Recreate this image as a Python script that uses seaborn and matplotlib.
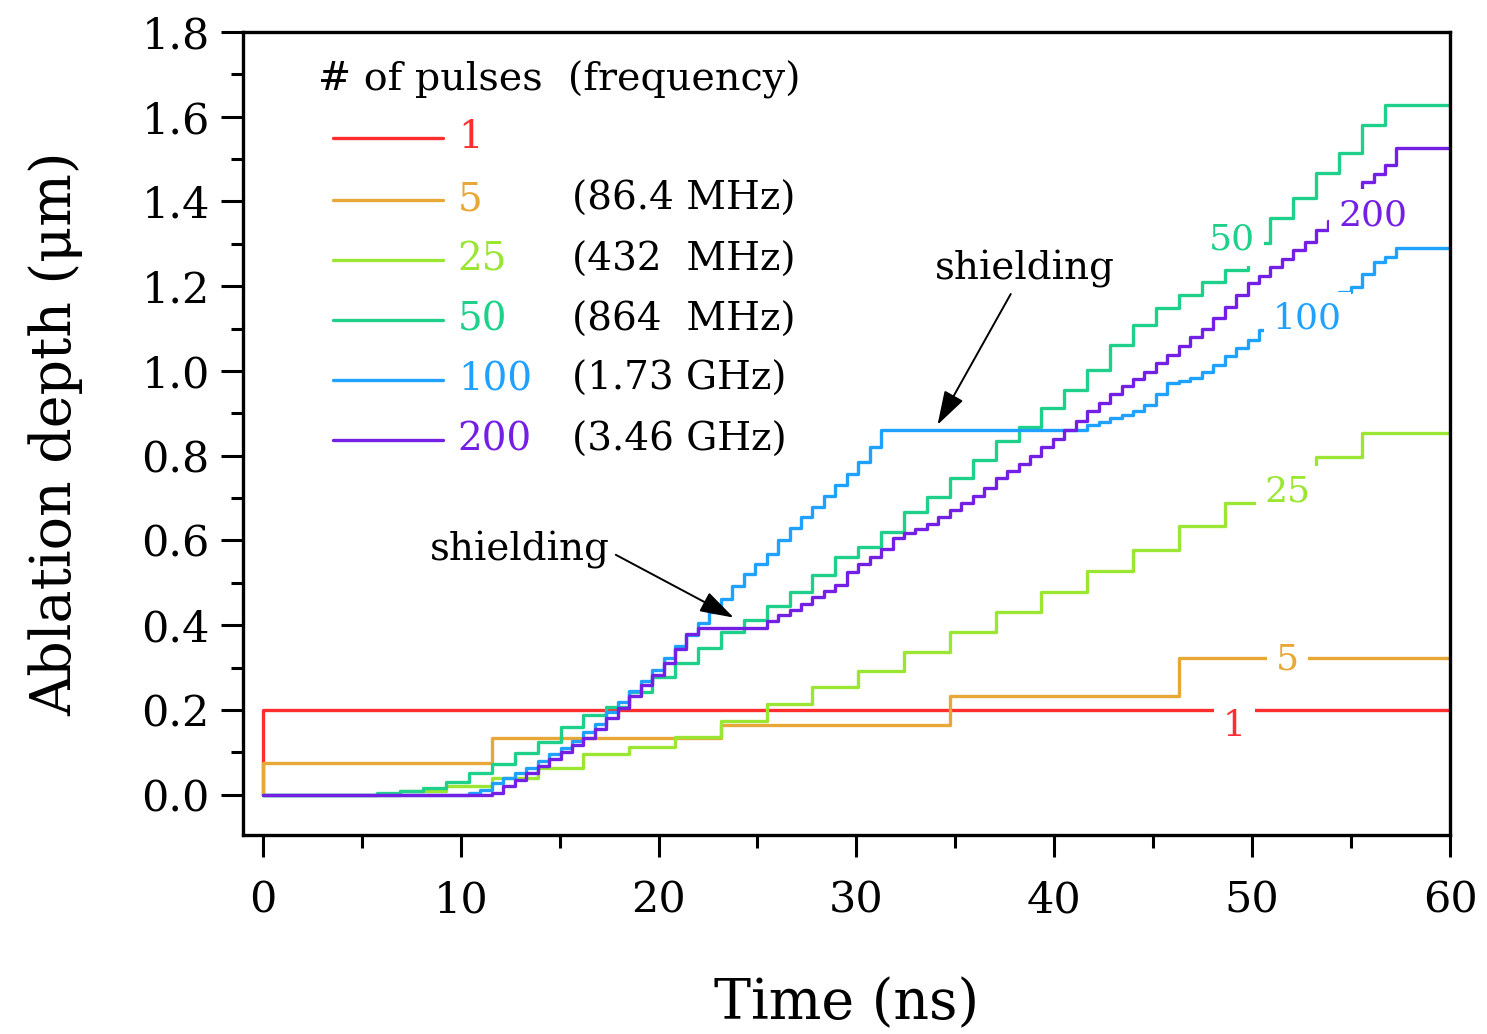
import numpy as np
import pandas as pd
import matplotlib
matplotlib.use("Agg")
import matplotlib.pyplot as plt
import seaborn as sns
from matplotlib.ticker import MultipleLocator, FormatStrFormatter

# ---------------- data ----------------
series_names = ["1", "5", "25", "50", "100", "200"]
freq_labels = ["", "(86.4 MHz)", "(432  MHz)", "(864  MHz)", "(1.73 GHz)", "(3.46 GHz)"]
colors = ["#ff2e2e", "#e8a838", "#9ae632", "#1fd08a", "#1fa2ff", "#7420e4"]

# pulse spacing in ns (1 / repetition frequency); 200-pulse curve shown at visible step resolution
period_5 = 11.574
period_25 = 2.3148
period_50 = 1.1574
period_100 = 0.5787
period_200_visible = 0.5787

depth_1 = [0.200]
depth_5 = [0.075, 0.134, 0.165, 0.232, 0.322]
depth_25 = [0.000, 0.000, 0.000, 0.010, 0.020, 0.040, 0.064, 0.097, 0.112, 0.137,
            0.175, 0.215, 0.255, 0.293, 0.337, 0.384, 0.431, 0.479, 0.527, 0.578,
            0.635, 0.688, 0.745, 0.797, 0.853]
depth_50 = [0.000, 0.000, 0.000, 0.000, 0.000, 0.003, 0.008, 0.015, 0.030, 0.052,
            0.073, 0.099, 0.125, 0.160, 0.189, 0.208, 0.243, 0.279, 0.311, 0.347,
            0.385, 0.413, 0.445, 0.479, 0.519, 0.561, 0.585, 0.620, 0.668, 0.703,
            0.748, 0.790, 0.835, 0.868, 0.913, 0.955, 1.003, 1.062, 1.109, 1.149,
            1.180, 1.210, 1.238, 1.302, 1.361, 1.408, 1.467, 1.515, 1.580, 1.628]
depth_100 = [0.000] * 18 + [
    0.005, 0.012, 0.028, 0.040, 0.052, 0.064, 0.080, 0.095, 0.110, 0.128,
    0.148, 0.168, 0.195, 0.220, 0.245, 0.268, 0.295, 0.322, 0.350, 0.378,
    0.405, 0.432, 0.462, 0.492, 0.520, 0.545, 0.568, 0.600, 0.630, 0.655,
    0.680, 0.705, 0.730, 0.758, 0.785, 0.820, 0.861] + [0.861] * 17 + [
    0.872, 0.880, 0.888, 0.895, 0.905, 0.920, 0.945, 0.972, 0.976, 0.984,
    0.998, 1.015, 1.035, 1.054, 1.073, 1.097, 1.110, 1.125, 1.138, 1.150,
    1.162, 1.175, 1.187, 1.198, 1.230, 1.257, 1.270, 1.290]
depth_200 = [0.000] * 20 + [
    0.005, 0.020, 0.035, 0.052, 0.068, 0.084, 0.100, 0.117, 0.134, 0.155,
    0.180, 0.205, 0.232, 0.258, 0.282, 0.312, 0.345, 0.380, 0.394, 0.394,
    0.394, 0.394, 0.394, 0.394, 0.410, 0.425, 0.436, 0.450, 0.467, 0.480,
    0.495, 0.525, 0.545, 0.560, 0.580, 0.605, 0.617, 0.627, 0.640, 0.655,
    0.672, 0.688, 0.705, 0.725, 0.748, 0.765, 0.780, 0.800, 0.820, 0.840,
    0.860, 0.882, 0.905, 0.925, 0.945, 0.965, 0.982, 0.998, 1.018, 1.038,
    1.060, 1.080, 1.100, 1.125, 1.150, 1.180, 1.208, 1.225, 1.245, 1.265,
    1.285, 1.305, 1.333, 1.355, 1.380, 1.410, 1.445, 1.465, 1.485, 1.526]

periods = [1.0, period_5, period_25, period_50, period_100, period_200_visible]
depths = [depth_1, depth_5, depth_25, depth_50, depth_100, depth_200]

# curve label positions (time, depth)
curve_label_t = [49.1, 51.8, 51.8, 49.0, 52.8, 56.1]
curve_label_d = [0.163, 0.320, 0.715, 1.31, 1.125, 1.368]

t_end = 60.0

rows = []
for name, per, dep in zip(series_names, periods, depths):
    times = [0.0] + [k * per for k in range(len(dep))] + [t_end]
    vals = [0.0] + list(dep) + [dep[-1]]
    for t, d in zip(times, vals):
        rows.append({"t": t, "d": d, "series": name})
df = pd.DataFrame(rows)

# ---------------- plot ----------------
sns.set_style("ticks")
plt.rcParams["font.family"] = ["DejaVu Serif"]
plt.rcParams["mathtext.fontset"] = "dejavuserif"
for key in ["text.color", "axes.labelcolor", "xtick.color", "ytick.color",
            "xtick.labelcolor", "ytick.labelcolor"]:
    plt.rcParams[key] = "black"

fig = plt.figure(figsize=(14.87, 10.34), dpi=100)
ax = fig.add_axes([243 / 1487, 1 - 835 / 1034, (1450 - 243) / 1487, (835 - 32) / 1034])

palette = dict(zip(series_names, colors))
sns.lineplot(data=df, x="t", y="d", hue="series", hue_order=series_names,
             palette=palette, estimator=None, sort=False, drawstyle="steps-post",
             linewidth=2.4, legend=False, ax=ax)

ax.set_xlim(-1, 60)
ax.set_ylim(-0.095, 1.8)
ax.xaxis.set_major_locator(MultipleLocator(10))
ax.xaxis.set_minor_locator(MultipleLocator(5))
ax.yaxis.set_major_locator(MultipleLocator(0.2))
ax.yaxis.set_minor_locator(MultipleLocator(0.1))
ax.yaxis.set_major_formatter(FormatStrFormatter("%.1f"))

for s in ax.spines.values():
    s.set_linewidth(2.4)
    s.set_color("black")
ax.tick_params(axis="both", which="major", direction="out", length=16, width=2.2,
               labelsize=31, pad=8, top=False, right=False, colors="black")
ax.tick_params(axis="both", which="minor", direction="out", length=9, width=2.2,
               top=False, right=False, colors="black")
ax.tick_params(axis="x", which="major", pad=16)

ax.set_xlabel("Time (ns)", fontsize=40, labelpad=40, color="black")
ax.set_ylabel("Ablation depth (μm)", fontsize=40, labelpad=42, color="black")

# curve labels (white boxes break the lines)
for name, c, lt, ld in zip(series_names, colors, curve_label_t, curve_label_d):
    ax.text(lt, ld, name, color=c, fontsize=26, ha="center", va="center", zorder=5,
            bbox=dict(boxstyle="square,pad=0.25", facecolor="white", edgecolor="none"))

# annotations
arrow_style = "-|>,head_length=0.7,head_width=0.22"
ax.annotate("shielding", xy=(34.1, 0.873), xytext=(38.5, 1.24), fontsize=28,
            ha="center", va="center", zorder=6,
            arrowprops=dict(arrowstyle=arrow_style, color="black", lw=1.4,
                            shrinkA=2, shrinkB=0, mutation_scale=30))
ax.annotate("shielding", xy=(23.8, 0.418), xytext=(13.0, 0.578), fontsize=28,
            ha="center", va="center", zorder=6,
            arrowprops=dict(arrowstyle=arrow_style, color="black", lw=1.4,
                            shrinkA=2, shrinkB=0, mutation_scale=30,
                            relpos=(1.0, 0.45)))

# custom legend
ax.text(0.062, 0.940, "# of pulses  (frequency)", transform=ax.transAxes,
        fontsize=28.5, ha="left", va="center")
row_y = [0.868, 0.791, 0.716, 0.641, 0.567, 0.492]
for name, c, fl, ry in zip(series_names, colors, freq_labels, row_y):
    ax.plot([0.0746, 0.1657], [ry, ry], transform=ax.transAxes, color=c, lw=2.4)
    ax.text(0.178, ry, name, transform=ax.transAxes, color=c, fontsize=28,
            ha="left", va="center")
    if fl:
        ax.text(0.2726, ry, fl, transform=ax.transAxes, color="black", fontsize=28,
                ha="left", va="center")

fig.savefig("out.png", dpi=100)
